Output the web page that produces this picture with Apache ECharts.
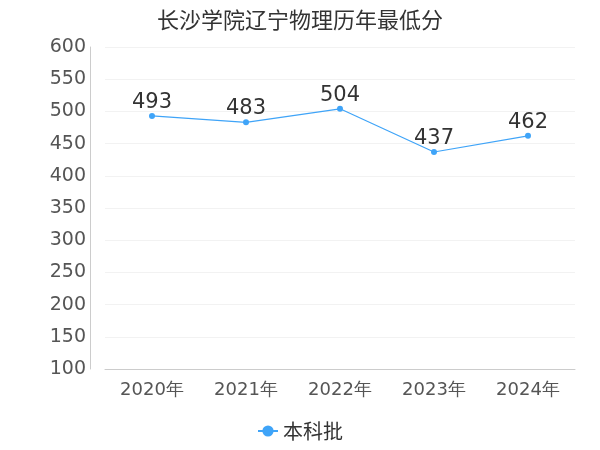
<!DOCTYPE html>
<html><head><meta charset="utf-8">
<script src="https://cdn.jsdelivr.net/npm/echarts@6/dist/echarts.min.js"></script>
<style>html,body{margin:0;padding:0}#c{width:600px;height:450px}</style>
</head><body><div id="c"></div>
<script>
var categories = ["2020年","2021年","2022年","2023年","2024年"];
var scores = [493,483,504,437,462];
var seriesName = "本科批";
var chart = echarts.init(document.getElementById('c'));
chart.setOption({
  title:{text:"长沙学院辽宁物理历年最低分",left:'center',top:4,textStyle:{fontSize:22,fontWeight:'normal',color:'#333',fontFamily:'Noto Sans CJK SC'}},
  legend:{bottom:4,left:'center',data:[seriesName],textStyle:{fontSize:20,color:'#333',fontFamily:'Noto Sans CJK SC'},itemWidth:20},
  grid:{left:105,right:25,top:47,bottom:81},
  xAxis:{type:'category',data:categories,boundaryGap:true,
    axisLine:{lineStyle:{color:'#ccc'}},axisTick:{show:false},
    axisLabel:{fontSize:18,color:'#555',margin:12,fontFamily:'DejaVu Sans'}},
  yAxis:{type:'value',min:100,max:600,interval:50,offset:15,
    axisLine:{show:true,lineStyle:{color:'#ccc'}},
    splitLine:{lineStyle:{color:'#f2f2f2'}},
    axisLabel:{fontSize:19,color:'#555',margin:4,fontFamily:'DejaVu Sans'}},
  series:[{name:seriesName,type:'line',data:scores,symbol:'circle',symbolSize:6,
    itemStyle:{color:'#3fa4f8'},lineStyle:{width:1.2,color:'#3fa4f8'},
    label:{show:true,position:'top',fontSize:21,color:'#333',fontFamily:'DejaVu Sans',distance:0}}]
});
</script></body></html>
